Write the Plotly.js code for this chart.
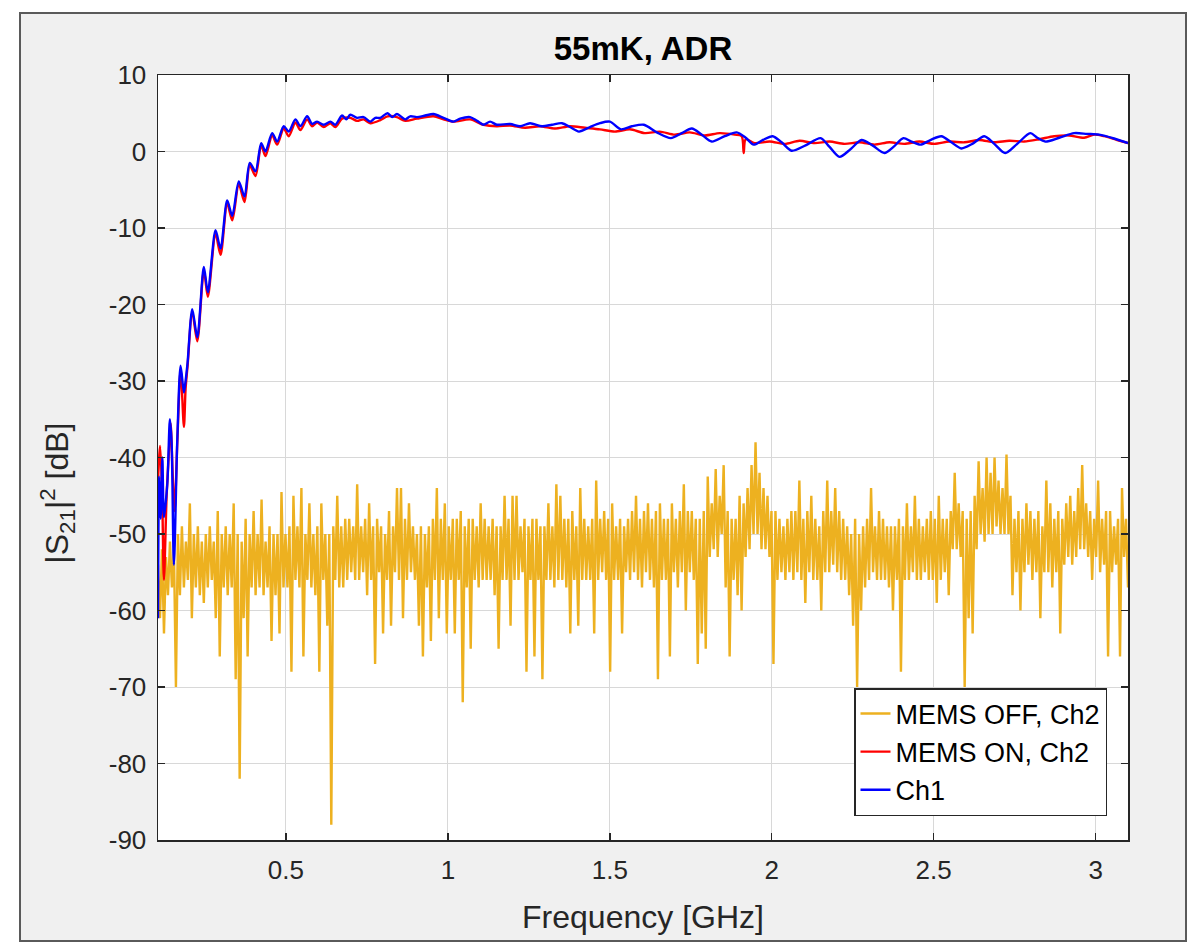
<!DOCTYPE html>
<html>
<head>
<meta charset="utf-8">
<script src="https://cdn.plot.ly/plotly-3.0.1.min.js"></script>
<style>
  html, body { margin: 0; padding: 0; background: #ffffff; width: 1199px; height: 943px; overflow: hidden; }
  #frame { position: absolute; left: 19px; top: 12px; width: 1168px; height: 930px; box-sizing: border-box;
           background: #f0f0f0; border: 2px solid #5a5a5a; }
  #chart { position: absolute; left: 0; top: 0; width: 1199px; height: 943px; }
</style>
</head>
<body>
<div id="frame"></div>
<div id="chart"></div>
<script>
// ---------------- DATA ----------------
const chartTitle = "55mK, ADR";
const xTitle = "Frequency [GHz]";
const yTitle = "|S<sub>21</sub>|<sup>2</sup> [dB]";
const seriesNames = ["MEMS OFF, Ch2", "MEMS ON, Ch2", "Ch1"];

const xTickVals = [0.5, 1, 1.5, 2, 2.5, 3];
const xTickLabels = ["0.5", "1", "1.5", "2", "2.5", "3"];
const yTickVals = [-90, -80, -70, -60, -50, -40, -30, -20, -10, 0, 10];
const yTickLabels = ["-90", "-80", "-70", "-60", "-50", "-40", "-30", "-20", "-10", "0", "10"];

// VNA sweep of the MEMS OFF trace (GHz)
const sweepStart = 0.105;
const sweepStop = 3.1;

// MEMS OFF, Ch2 (dB)
const memsOffDb = [
  -54,-61,-52,-63,-53,  -58,-51,-57,-52,-70,  -50,-58,-49,-57,-51,  -56,-46,-61,-50,-57,
  -49,-58,-51,-59,-50,  -57,-49,-56,-51,-61,  -47,-66,-50,-57,-49,  -58,-50,-57,-46,-69,
  -50,-82,-51,-61,-48,  -66,-50,-57,-47,-58,  -50,-57,-45.5,-58,-51, -57,-49,-64,-50,-58,
  -50,-63,-44.5,-57,-50, -57,-49,-68,-45,-56, -49,-57,-44,-66,-50,  -56,-46,-57,-50,-58,
  -49,-68,-46,-56,-50,  -62,-50,-88,-49,-56,  -45,-57,-49,-57,-48,  -56,-48,-55,-49,-56,
  -43.5,-56,-49,-55,-48, -58,-46,-56,-49,-67, -48,-55,-49,-63,-50,  -56,-47,-62,-49,-55,
  -44,-56,-44,-61,-48,  -56,-46,-55,-49,-56,  -50,-62,-49,-66,-50,  -57,-49,-64,-48,-56,
  -44,-61,-48,-56,-46,  -63,-49,-56,-48,-63,  -48,-56,-47,-72,-49,  -57,-48,-65,-48,-56,
  -49,-57,-46,-56,-48,  -56,-49,-56,-48,-58,  -49,-65,-49,-56,-45,  -56,-48,-62,-45,-56,
  -45,-56,-49,-55,-48,  -68,-49,-56,-48,-66,  -48,-56,-49,-69,-49,  -56,-46,-56,-49,-57,
  -43.5,-56,-45,-56,-48, -57,-48,-63,-47,-56, -49,-62,-44,-56,-48,  -56,-49,-56,-48,-63,
  -43,-56,-48,-55,-47,  -56,-48,-68,-46,-56,  -49,-56,-48,-63,-49,  -55,-48,-56,-47,-55,
  -45,-56,-48,-57,-47,  -55,-46,-56,-48,-57,  -47,-69,-46,-56,-48,  -56,-48,-66,-46,-55,
  -48,-57,-47,-55,-43.5, -60,-47,-55,-47,-56, -48,-67,-48,-63,-47,  -65,-42.5,-53,-46,-52,
  -41.5,-53,-45,-50,-41, -57,-47,-66,-48,-56, -48,-58,-45,-60,-46,  -53,-44,-52,-41,-50,
  -38,-50,-42,-52,-44,  -52,-45,-53,-47,-67,  -47,-56,-48,-55,-49,  -56,-48,-55,-47,-56,
  -47,-55,-43,-56,-48,  -59,-47,-55,-45,-56,  -48,-56,-49,-60,-47,  -55,-43,-55,-47,-54,
  -44,-55,-47,-56,-48,  -56,-49,-58,-50,-62,  -48,-70,-50,-60,-49,  -57,-48,-56,-44,-55,
  -49,-56,-47,-56,-48,  -56,-49,-57,-49,-60,  -49,-56,-48,-68,-49,  -56,-46,-56,-49,-55,
  -45,-56,-48,-56,-49,  -55,-48,-56,-47,-56,  -48,-59,-45,-56,-48,  -55,-48,-58,-47,-52,
  -42,-52,-46,-53,-47,  -70,-48,-61,-47,-63,  -45,-52,-40.5,-50,-44, -51,-40,-50,-42,-50,
  -40,-49,-43,-50,-44,  -50,-39.6,-50,-45,-58, -48,-55,-47,-60,-48, -55,-46,-54,-47,-56,
  -48,-55,-47,-61,-49,  -55,-43,-55,-46,-57,  -48,-55,-47,-63,-48,  -54,-46,-53,-45,-54,
  -47,-53,-44,-52,-41,  -52,-46,-53,-47,-56,  -48,-53,-43,-55,-48,  -54,-47,-66,-47,-55,
  -49,-54,-48,-66,-44,  -53,-48,-57
];

// MEMS ON, Ch2: frequency (GHz) and level (dB)
const memsOnFreq = [
  0.105,0.1116,0.1178,0.1233,0.1316,0.1378,0.1439,0.1501,0.1563,0.1646,
  0.1748,0.1850,0.1902,0.1964,0.2108,0.2263,0.2466,0.2589,0.2827,0.2981,
  0.3187,0.3342,0.3545,0.3721,0.3884,0.4060,0.4236,0.4368,0.4575,0.4729,
  0.4932,0.5086,0.5293,0.5447,0.5654,0.5808,0.5962,0.6165,0.6372,0.6526,
  0.6732,0.6988,0.7195,0.7398,0.7605,0.7913,0.8138,0.8428,0.8684,0.9044,
  0.9556,0.9864,1.0173,1.0687,1.1097,1.1510,1.1920,1.2383,1.2845,1.3307,
  1.3770,1.4232,1.4695,1.5157,1.5620,1.6082,1.6544,1.7007,1.7469,1.7932,
  1.8394,1.8856,1.9072,1.9134,1.9196,1.9473,1.9936,2.0398,2.0860,2.1323,
  2.1785,2.2247,2.2710,2.3172,2.3634,2.4097,2.4559,2.5021,2.5484,2.5946,
  2.6409,2.6871,2.7333,2.7796,2.8258,2.8720,2.9183,2.9645,2.9954,3.0262,
  3.0663,3.1
];
const memsOnDb = [
  -43,-38.5,-45,-56,-45,-40,-35.5,-42,-47,-38,
  -28.5,-36,-31,-28,-21,-24.8,-15.5,-19,-10.8,-13.5,
  -6.8,-9,-4.3,-6.6,-1.8,-3.2,0.8,-0.6,2.1,0.9,
  3.0,2.0,3.8,2.8,4.2,3.3,3.8,3.2,3.7,3.2,
  4.3,4.4,4.0,4.2,3.7,4.1,4.6,4.5,4.0,4.3,
  4.6,4.2,3.9,4.2,3.5,3.3,3.4,3.1,3.3,3.0,
  3.3,3.1,2.9,2.6,2.9,2.4,2.6,2.2,2.5,2.1,
  2.4,2.2,2.0,-0.2,1.6,1.1,1.3,1.0,1.4,1.1,
  1.3,1.0,1.2,0.9,1.2,1.0,1.3,1.0,1.3,1.2,
  1.5,1.2,1.4,1.3,1.6,2.0,2.1,1.8,2.2,2.0,
  1.5,1.1
];

// Ch1: frequency (GHz) and level (dB)
const ch1Freq = [
  0.105,0.1085,0.1131,0.1184,0.1233,0.1338,0.1418,0.1470,0.1541,0.1646,
  0.1748,0.1850,0.1902,0.1964,0.2108,0.2263,0.2466,0.2589,0.2827,0.2981,
  0.3187,0.3342,0.3545,0.3721,0.3884,0.4060,0.4236,0.4368,0.4575,0.4729,
  0.4932,0.5086,0.5293,0.5447,0.5654,0.5808,0.5962,0.6165,0.6372,0.6526,
  0.6732,0.6865,0.6988,0.7195,0.7398,0.7605,0.7759,0.7913,0.8138,0.8283,
  0.8428,0.8684,0.8838,0.9044,0.9300,0.9556,0.9864,1.0173,1.0379,1.0687,
  1.0903,1.1097,1.1304,1.1510,1.1920,1.2229,1.2537,1.2907,1.3215,1.3524,
  1.3770,1.4048,1.4387,1.4695,1.5003,1.5342,1.5682,1.6051,1.6452,1.6884,
  1.7223,1.7531,1.7839,1.8147,1.8548,1.8918,1.9196,1.9442,1.9720,2.0028,
  2.0305,2.0614,2.1045,2.1508,2.1785,2.2093,2.2432,2.2771,2.3110,2.3480,
  2.3758,2.4066,2.4313,2.4590,2.4898,2.5237,2.5546,2.5854,2.6193,2.6563,
  2.6871,2.7210,2.7580,2.7981,2.8197,2.8443,2.8875,2.9337,2.9738,3.0108,
  3.0570,3.1
];
const ch1Db = [
  -61,-42.5,-48,-40,-47.8,-43.4,-35,-38,-54,-37.7,
  -28,-31.5,-30,-27.6,-20.6,-24.3,-15.1,-18.4,-10.3,-12.7,
  -6.4,-8.4,-3.9,-5.9,-1.5,-2.6,1.1,0,2.4,1.3,
  3.3,2.6,4.2,3.3,4.6,3.6,3.9,3.5,3.9,3.5,
  4.7,4.2,4.8,4.4,4.5,3.9,4.4,4.4,5.0,4.5,
  4.9,4.2,4.6,4.5,4.7,4.9,4.4,3.9,4.3,4.5,
  4.0,3.5,3.9,3.5,3.6,3.3,3.7,3.3,3.5,3.7,
  3.2,2.6,3.2,3.7,3.9,2.9,3.3,3.5,2.5,1.75,
  2.4,3.0,2.2,1.3,2.0,2.5,1.8,0.9,1.5,2.0,
  1.2,0.1,0.8,1.75,0.6,-0.7,0.3,1.5,0.8,-0.2,
  0.6,1.75,1.3,0.9,1.5,2.0,1.2,0.4,1.0,2.0,
  1.0,-0.2,1.0,2.4,1.8,1.3,1.8,2.4,2.3,2.2,
  1.7,1.1
];

// ---------------- BUILD ----------------
const nOff = memsOffDb.length;
const memsOffFreq = memsOffDb.map((_, i) => sweepStart + i * (sweepStop - sweepStart) / (nOff - 1));

const fontFam = '"Liberation Sans", Arial, Helvetica, sans-serif';
const axisColor = '#262626';

const traces = [
  { x: memsOffFreq, y: memsOffDb, name: seriesNames[0], type: 'scatter', mode: 'lines',
    line: { color: '#EDB120', width: 2.4 } },
  { x: memsOnFreq, y: memsOnDb, name: seriesNames[1], type: 'scatter', mode: 'lines',
    line: { color: '#FF0000', width: 2.4, shape: 'spline', smoothing: 0.8 } },
  { x: ch1Freq, y: ch1Db, name: seriesNames[2], type: 'scatter', mode: 'lines',
    line: { color: '#0000FF', width: 2.4, shape: 'spline', smoothing: 0.8 } }
];

const axisCommon = {
  showline: true, linecolor: axisColor, linewidth: 1.5, mirror: 'ticks',
  ticks: 'inside', ticklen: 7, tickwidth: 1.5, tickcolor: axisColor,
  showgrid: true, gridcolor: '#d8d8d8', gridwidth: 1, zeroline: false,
  tickfont: { family: fontFam, size: 26, color: axisColor }
};

// trailing no-break spaces (protected by a zero-width space) keep the rotated label low on the axis
const yTitlePadded = yTitle + '\u00a0'.repeat(8) + '\u200b';

const layout = {
  width: 1199, height: 943,
  margin: { l: 158, r: 71, t: 75, b: 103 },
  paper_bgcolor: 'rgba(0,0,0,0)', plot_bgcolor: '#ffffff',
  title: { text: '<b>' + chartTitle + '</b>', font: { family: fontFam, size: 33, color: '#000000' },
           x: 0.5, xref: 'paper', xanchor: 'center', y: 1 - 48 / 943, yref: 'container', yanchor: 'middle' },
  xaxis: Object.assign({}, axisCommon, {
    range: [sweepStart, sweepStop], tickmode: 'array', tickvals: xTickVals, ticktext: xTickLabels,
    ticklabelstandoff: 6,
    title: { text: xTitle, font: { family: fontFam, size: 32, color: axisColor }, standoff: 22 }
  }),
  yaxis: Object.assign({}, axisCommon, {
    range: [-90, 10], tickmode: 'array', tickvals: yTickVals, ticktext: yTickLabels,
    ticklabelstandoff: 5,
    title: { text: yTitlePadded, font: { family: fontFam, size: 32, color: axisColor }, standoff: 30 }
  }),
  showlegend: true,
  legend: {
    x: (1107 - 158) / 970, xanchor: 'right', y: (840 - 688) / 765, yanchor: 'top',
    bgcolor: '#ffffff', bordercolor: axisColor, borderwidth: 1.5,
    font: { family: fontFam, size: 27, color: '#000000' },
    traceorder: 'normal', tracegroupgap: 0
  }
};

Plotly.newPlot('chart', traces, layout, { displayModeBar: false, staticPlot: true });
</script>
</body>
</html>
